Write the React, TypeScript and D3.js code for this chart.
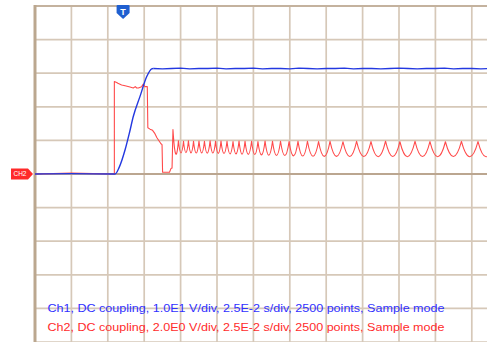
import React from 'react';
import * as d3 from 'd3';

// time base 25 ms/div, Ch1 10 V/div, Ch2 2 V/div, both grounds on centre line
const ch1RiseMs = [0, 20, 44, 46.2, 49.5, 52, 54, 57.7, 61.4, 64.1];
const ch1RiseV = [0, 0.1, 0, 1.9, 7.2, 12.5, 17.1, 23.1, 29, 31.3];
const ch1PlateauMs = [65, 70, 75, 80, 85, 90, 95, 100, 105, 110, 115, 120, 125, 130, 135, 140, 145, 150, 155, 160, 165, 170, 175, 180, 185, 190, 195, 200, 205, 210, 215, 220, 225, 230, 235, 240, 245, 250];
const ch1PlateauV = [31.4, 31.3, 31.4, 31.5, 31.3, 31.4, 31.4, 31.5, 31.3, 31.4, 31.4, 31.5, 31.3, 31.4, 31.4, 31.3, 31.5, 31.4, 31.3, 31.4, 31.4, 31.5, 31.3, 31.4, 31.4, 31.3, 31.4, 31.5, 31.4, 31.3, 31.4, 31.4, 31.5, 31.3, 31.4, 31.4, 31.3, 31.4];

const ch2PulseMs = [0, 20, 43.6, 43.6, 44.9, 45.8, 47.6, 49.5, 52.2, 54, 55.1, 55.9, 56.8, 58.6, 59.5, 60.4, 61.7, 62, 63.2, 64.6, 65.9, 67, 68.1, 69.2, 69.8, 70.1, 73.9, 74.7, 75.3];
const ch2PulseV = [0, 0.05, 0, 5.5, 5.45, 5.38, 5.3, 5.25, 5.18, 5.12, 5.2, 5.12, 5.12, 5.2, 5.35, 5.2, 5.2, 2.75, 2.67, 2.6, 2.4, 2.16, 1.98, 1.8, 1.75, 0.1, 0.1, 0.32, 0.35];

const ch2PeaksMs = [75.8, 78.8, 81.6, 84.3, 87.1, 90.1, 93.1, 96.2, 99.2, 102.2, 105.5, 108.8, 112.1, 115.4, 119.0, 122.5, 126.4, 130.5, 134.9, 139.6, 144.5, 149.7, 155.8, 162.1, 169.2, 176.7, 184.6, 192.6, 200.5, 208.8, 217.0, 225.5, 234.3, 243.4, 252.2];
const ch2PeaksV = [2.64, 1.98, 1.95, 1.97, 1.94, 1.96, 1.95, 1.97, 1.94, 1.96, 1.95, 1.93, 1.96, 1.94, 1.95, 1.93, 1.96, 1.94, 1.95, 1.93, 1.94, 1.95, 1.93, 1.94, 1.92, 1.94, 1.93, 1.95, 1.92, 1.94, 1.93, 1.92, 1.94, 1.93, 1.92];
const ch2TroughsV = [1.2, 1.26, 1.27, 1.26, 1.25, 1.26, 1.24, 1.25, 1.23, 1.22, 1.2, 1.2, 1.18, 1.17, 1.16, 1.14, 1.12, 1.1, 1.1, 1.08, 1.07, 1.06, 1.05, 1.05, 1.04, 1.04, 1.03, 1.04, 1.03, 1.04, 1.03, 1.04, 1.03, 1.03];

const triggerMs = 48.4;
const ch1VoltsPerDiv = 10;
const ch2VoltsPerDiv = 2;

const infoLines = [
  { text: 'Ch1, DC coupling, 1.0E1 V/div, 2.5E-2 s/div, 2500 points, Sample mode', color: '#3030ff' },
  { text: 'Ch2, DC coupling, 2.0E0 V/div, 2.5E-2 s/div, 2500 points, Sample mode', color: '#ff2b2b' },
];

const W = 487;
const H = 342;

export default function App() {
  const x = d3.scaleLinear().domain([0, 250]).range([35, 490]);
  const y = d3.scaleLinear().domain([-5, 5]).range([342, 6]);

  const y1 = (v: number) => y(v / ch1VoltsPerDiv);
  const y2 = (v: number) => y(v / ch2VoltsPerDiv);

  const risePts: [number, number][] = ch1RiseMs.map((t, i) => [t, ch1RiseV[i]]);
  const plateauPts: [number, number][] = ch1PlateauMs.map((t, i) => [t, ch1PlateauV[i]]);
  const riseLine = d3
    .line<[number, number]>()
    .x((d) => x(d[0]))
    .y((d) => y1(d[1]))
    .curve(d3.curveMonotoneX)([...risePts, plateauPts[0]]);
  const plateauLine = d3
    .line<[number, number]>()
    .x((d) => x(d[0]))
    .y((d) => y1(d[1]))(plateauPts);

  // Ch2: pulse as polyline, then the ringing as scallops (sharp crests, round troughs)
  const p = d3.path();
  ch2PulseMs.forEach((t, i) => {
    if (i === 0) p.moveTo(x(t), y2(ch2PulseV[i]));
    else p.lineTo(x(t), y2(ch2PulseV[i]));
  });
  p.lineTo(x(ch2PeaksMs[0]), y2(ch2PeaksV[0]));
  for (let i = 0; i < ch2PeaksMs.length - 1; i++) {
    const x0 = x(ch2PeaksMs[i]);
    const x1 = x(ch2PeaksMs[i + 1]);
    const yA = y2(ch2PeaksV[i]);
    const yB = y2(ch2PeaksV[i + 1]);
    const yT = y2(ch2TroughsV[i]);
    const yc = (4 * yT - yA - yB) / 2;
    p.quadraticCurveTo((x0 + x1) / 2, yc, x1, yB);
  }

  const vTicks = x.ticks(10);
  const hTicks = y.ticks(10);
  const tx = x(triggerMs);

  return (
    <svg
      width={W}
      height={H}
      style={{ position: 'absolute', left: 0, top: 0, background: '#fff' }}
    >
      <defs>
        <clipPath id="plot">
          <rect x={35} y={6} width={455} height={336} />
        </clipPath>
      </defs>
      <g>
        {vTicks.map((t) => (
          <line
            key={'v' + t}
            x1={x(t)}
            x2={x(t)}
            y1={6}
            y2={342}
            stroke={t === 125 ? '#b09a82' : '#d6c8b8'}
            strokeWidth={t === 125 ? 2.5 : 1.7}
          />
        ))}
        {hTicks.map((d) => (
          <line
            key={'h' + d}
            x1={35}
            x2={490}
            y1={y(d)}
            y2={y(d)}
            stroke={d === 0 ? '#bba690' : '#d6c8b8'}
            strokeWidth={d === 0 ? 2.2 : 1.7}
          />
        ))}
        <line x1={35} x2={490} y1={6} y2={6} stroke="#c4b29e" strokeWidth={2.2} />
        <line x1={35} x2={35} y1={5} y2={342} stroke="#bba78f" strokeWidth={3} />
      </g>

      <g clipPath="url(#plot)">
        <path d={p.toString()} fill="none" stroke="#ff4a4a" strokeWidth={1.1} strokeLinejoin="round" />
        <path d={riseLine ?? ''} fill="none" stroke="#2338e0" strokeWidth={1.4} />
        <path d={plateauLine ?? ''} fill="none" stroke="#2338e0" strokeWidth={1.4} />
      </g>

      {/* trigger marker */}
      <g transform={`translate(${tx},0)`}>
        <path
          d="M-6.5,6 Q-6.5,5 -5.5,5 L5.5,5 Q6.5,5 6.5,6 L6.5,13 L0,19 L-6.5,13 Z"
          fill="#1f5fd0"
        />
        <text
          x={0}
          y={14.5}
          textAnchor="middle"
          fontFamily="Liberation Sans, Arial, sans-serif"
          fontWeight="bold"
          fontSize={9}
          fill="#fff"
        >
          T
        </text>
      </g>

      {/* channel 2 ground marker */}
      <g transform={`translate(0,${y(0)})`}>
        <path d="M11,-5.5 L28,-5.5 L33,0 L28,5.5 L11,5.5 Z" fill="#ff2a2a" />
        <text
          x={20}
          y={2.3}
          textAnchor="middle"
          fontFamily="Liberation Sans, Arial, sans-serif"
          fontSize={6.5}
          fill="#fff"
        >
          CH2
        </text>
      </g>

      {infoLines.map((l, i) => (
        <text
          key={i}
          x={47.5}
          y={312 + i * 19}
          fontFamily="Liberation Sans, Arial, sans-serif"
          fontSize={11.5}
          fill={l.color}
          textLength={397}
          lengthAdjust="spacingAndGlyphs"
        >
          {l.text}
        </text>
      ))}
    </svg>
  );
}
